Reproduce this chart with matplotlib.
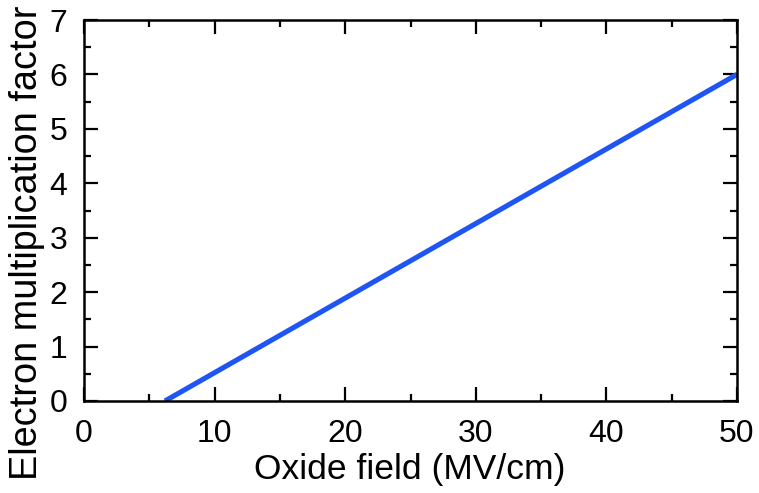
import matplotlib
matplotlib.use("Agg")
import matplotlib.pyplot as plt
from matplotlib.ticker import MultipleLocator

plt.rcParams['font.family'] = ['Liberation Sans', 'DejaVu Sans']

field = [6.2, 50.0]
factor = [0.0, 6.0]
x_ticks = [0, 10, 20, 30, 40, 50]
y_ticks = [0, 1, 2, 3, 4, 5, 6, 7]

fig = plt.figure(figsize=(7.59, 4.93), dpi=100)
ax = fig.add_axes([84/759, 1-401/493, (737-84)/759, (401-20)/493])
ax.plot(field, factor, color='#1f55f5', lw=3.7, solid_capstyle='butt')
ax.set_xlim(0, 50)
ax.set_ylim(0, 7)
ax.set_xticks(x_ticks)
ax.set_yticks(y_ticks)
ax.xaxis.set_minor_locator(MultipleLocator(5))
ax.yaxis.set_minor_locator(MultipleLocator(0.5))
ax.tick_params(which='both', direction='in', top=True, right=True, width=1.6, labelsize=23, colors='black')
ax.tick_params(which='major', length=10)
ax.tick_params(axis='x', which='major', pad=13)
ax.tick_params(axis='y', which='major', pad=12)
ax.tick_params(which='minor', length=5)
for s in ax.spines.values():
    s.set_linewidth(1.8)
ax.set_xlabel('Oxide field (MV/cm)', fontsize=25.5)
ax.set_ylabel('Electron multiplication factor', fontsize=27.3)
ax.xaxis.label.set_va('center')
ax.yaxis.label.set_va('center')
ax.xaxis.set_label_coords((410-84)/653, -(470-401)/381)
ax.yaxis.set_label_coords((27-84)/653, (401-243)/381)
fig.savefig('out.png', dpi=100)
